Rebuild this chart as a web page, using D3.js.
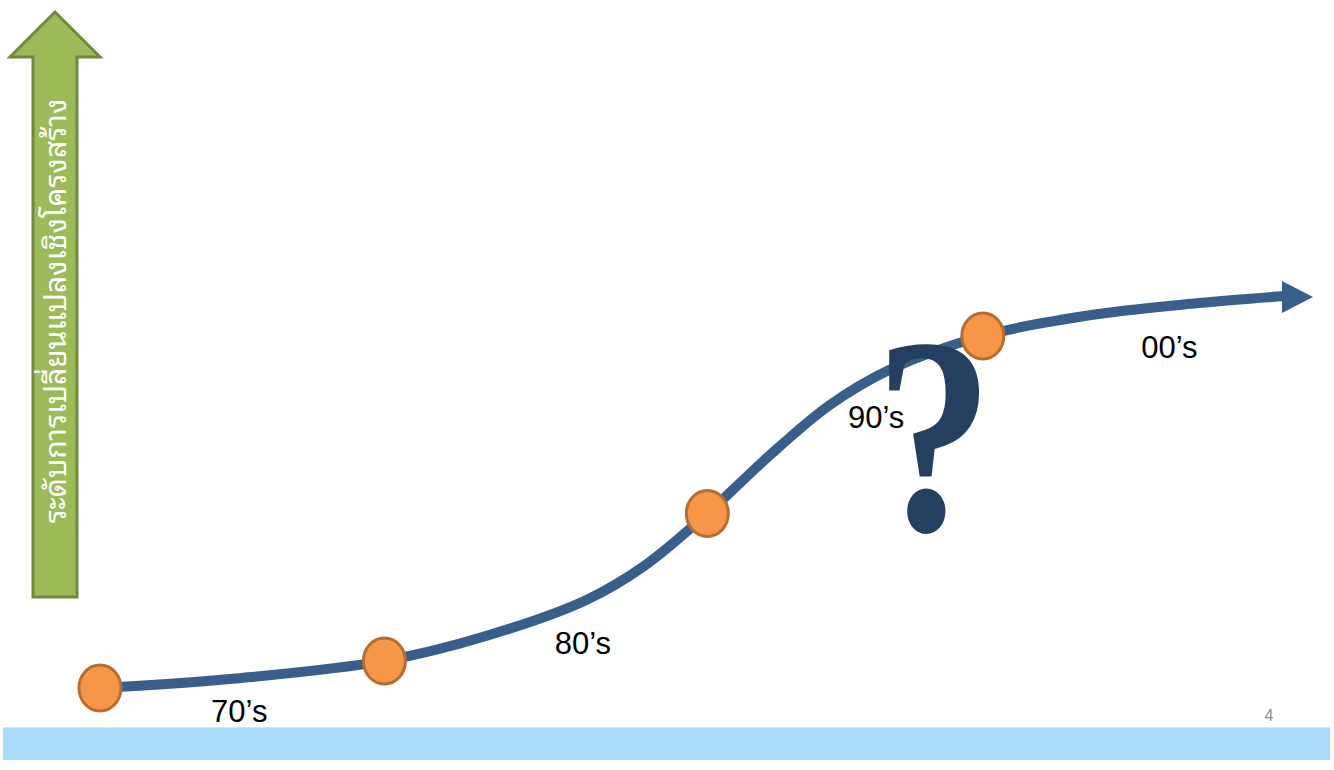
<!DOCTYPE html>
<html>
<head>
<meta charset="utf-8">
<script src="https://cdn.jsdelivr.net/npm/d3@7/dist/d3.min.js"></script>
<style>
  html, body { margin: 0; padding: 0; background: #ffffff; }
  svg { display: block; }
</style>
</head>
<body>
<svg id="chart" width="1334" height="770"></svg>
<script>
// Trend of structural change across the decades
const pathYears  = [1970, 1974.7, 1979.6, 1983.0, 1986.4, 1988.4, 1990.5, 1992.6, 1994.6, 1996.6, 1999.8, 2003.7, 2007.1, 2010];
const pathLevels = [0,    2.5,    6.9,    13.2,   22.4,   31.3,   44.5,   59.3,   72.0,   81.0,   89.8,   95.4,   98.2,   100];

const markerYears  = [1970, 1979.6, 1990.5, 1999.8];
const markerLevels = [0,    6.9,    44.5,   89.8];

const decadeLabels = ["70\u2019s", "80\u2019s", "90\u2019s", "00\u2019s"];
const labelYears   = [1974.7, 1986.3, 1996.2, 2006.1];
const labelLevels  = [-8.7,   8.7,    66.3,   84.2];

const axisTitle = "ระดับการเปลี่ยนแปลงเชิงโครงสร้าง";
const pageNumber = "4";

const svg = d3.select("#chart");

const x = d3.scaleLinear().domain([1970, 2010]).range([100, 1285]);
const y = d3.scaleLinear().domain([0, 100]).range([688, 296]);

// bottom band
svg.append("rect").attr("x", 3).attr("y", 727).attr("width", 1327).attr("height", 33)
  .attr("fill", "#aadcfc");
svg.append("line").attr("x1", 3).attr("x2", 1330).attr("y1", 727.5).attr("y2", 727.5)
  .attr("stroke", "#c9e9fd").attr("stroke-width", 1);

// vertical green block arrow
const arrowShape = d3.path();
arrowShape.moveTo(33, 597);
arrowShape.lineTo(33, 57);
arrowShape.lineTo(10, 57);
arrowShape.lineTo(55, 12);
arrowShape.lineTo(100, 57);
arrowShape.lineTo(77, 57);
arrowShape.lineTo(77, 597);
arrowShape.closePath();
svg.append("path").attr("d", arrowShape.toString())
  .attr("fill", "#9bbb59").attr("stroke", "#71893f").attr("stroke-width", 3)
  .attr("stroke-linejoin", "miter");

svg.append("text")
  .attr("transform", "translate(66,311) rotate(-90)")
  .attr("text-anchor", "middle")
  .attr("fill", "#ffffff")
  .attr("font-family", "'Noto Sans Thai Looped','Noto Serif Thai','Noto Sans Thai','Tahoma','DejaVu Sans',sans-serif")
  .attr("font-size", 30)
  .text(axisTitle);

// trend curve
const pts = pathYears.map((d, i) => [x(d), y(pathLevels[i])]);
const line = d3.line().curve(d3.curveCatmullRom.alpha(0.5));
svg.append("path").attr("d", line(pts))
  .attr("fill", "none").attr("stroke", "#385e8c").attr("stroke-width", 10)
  .attr("stroke-linecap", "butt");

// arrow head at the end of the curve
const head = d3.path();
head.moveTo(x(2010) - 3, y(100) - 15);
head.lineTo(x(2010) + 28, y(100) + 1);
head.lineTo(x(2010) - 3, y(100) + 17);
head.closePath();
svg.append("path").attr("d", head.toString()).attr("fill", "#385e8c");

// big question mark
svg.append("text")
  .attr("transform", "translate(934,530) scale(0.86,1.02)")
  .attr("text-anchor", "middle")
  .attr("fill", "#243f60")
  .attr("font-family", "'Liberation Serif','Times New Roman',serif")
  .attr("font-weight", "bold")
  .attr("font-size", 275)
  .text("?");

// decade markers
svg.selectAll("ellipse.marker").data(markerYears).join("ellipse")
  .attr("class", "marker")
  .attr("cx", d => x(d))
  .attr("cy", (d, i) => y(markerLevels[i]))
  .attr("rx", 21).attr("ry", 23)
  .attr("fill", "#f79646").attr("stroke", "#b66d31").attr("stroke-width", 3);

// decade labels
svg.selectAll("text.decade").data(decadeLabels).join("text")
  .attr("class", "decade")
  .attr("x", (d, i) => x(labelYears[i]))
  .attr("y", (d, i) => y(labelLevels[i]))
  .attr("text-anchor", "middle")
  .attr("font-family", "'Liberation Sans',Arial,sans-serif")
  .attr("font-size", 31)
  .attr("fill", "#000000")
  .text(d => d);

// page number
svg.append("text").attr("x", 1269).attr("y", 721)
  .attr("text-anchor", "middle")
  .attr("font-family", "'Liberation Sans',Arial,sans-serif")
  .attr("font-size", 16).attr("fill", "#8c8c8c")
  .text(pageNumber);
</script>
</body>
</html>
